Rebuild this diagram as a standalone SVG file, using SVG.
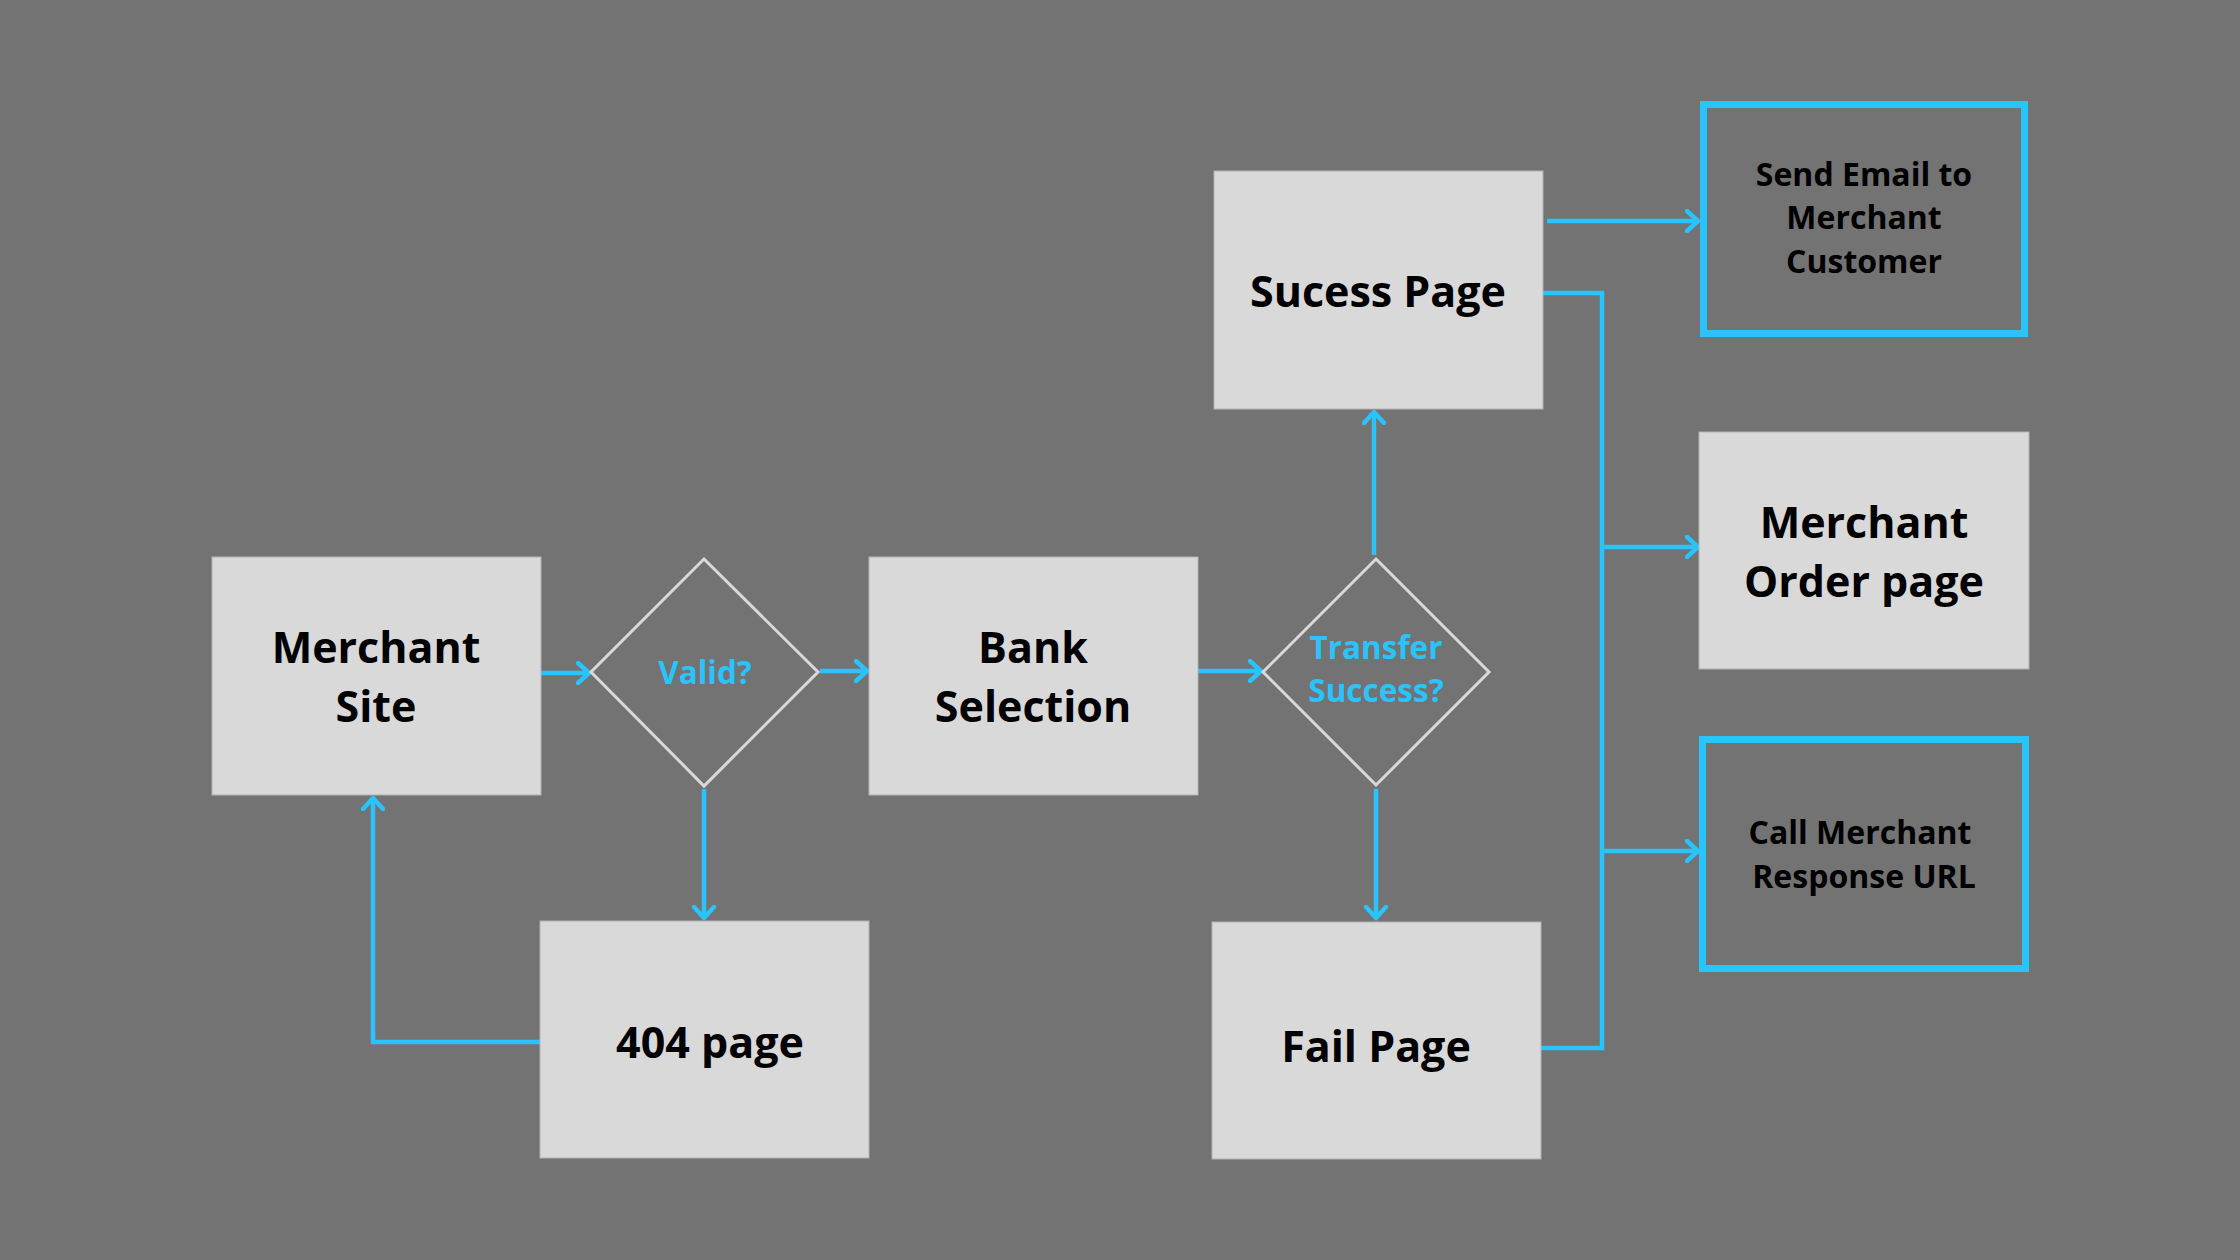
<svg xmlns="http://www.w3.org/2000/svg" width="2240" height="1260" viewBox="0 0 2240 1260">
<defs>
<marker id="arr" markerUnits="userSpaceOnUse" viewBox="0 0 16 24" refX="13" refY="12" markerWidth="16" markerHeight="24" orient="auto">
<path d="M2,2 L13,12 L2,22" fill="none" stroke="#29c3fd" stroke-width="4.5" stroke-linecap="round" stroke-linejoin="round"/>
</marker>
<style>
.box{fill:#d9d9d9;stroke:#b3b3b3;stroke-width:1}
.obox{fill:none;stroke:#29c3fd;stroke-width:7}
.dia{fill:none;stroke:#d9d9d9;stroke-width:3}
.big{font-family:"Open Sans","Liberation Sans",sans-serif;font-weight:700;font-size:43px;fill:#000;text-anchor:middle}
.small{font-family:"Open Sans","Liberation Sans",sans-serif;font-weight:700;font-size:32px;fill:#000;text-anchor:middle}
.q{font-family:"Open Sans","Liberation Sans",sans-serif;font-weight:700;font-size:31.5px;fill:#29c3fd;text-anchor:middle}
.c{fill:none;stroke:#29c3fd;stroke-width:4.5;stroke-linejoin:miter}
</style>
</defs>
<rect width="2240" height="1260" fill="#737373"/>
<g id="connectors">
<line class="c" x1="541" y1="673" x2="589" y2="673" marker-end="url(#arr)"/>
<line class="c" x1="820" y1="671" x2="867" y2="671" marker-end="url(#arr)"/>
<line class="c" x1="1198" y1="671" x2="1261" y2="671" marker-end="url(#arr)"/>
<line class="c" x1="1374" y1="555" x2="1374" y2="412" marker-end="url(#arr)"/>
<line class="c" x1="1376" y1="789" x2="1376" y2="918" marker-end="url(#arr)"/>
<line class="c" x1="704" y1="789" x2="704" y2="918" marker-end="url(#arr)"/>
<polyline class="c" points="540,1042 373,1042 373,798" marker-end="url(#arr)"/>
<line class="c" x1="1547" y1="221" x2="1698" y2="221" marker-end="url(#arr)"/>
<polyline class="c" points="1543,293 1602,293 1602,1048 1541,1048"/>
<line class="c" x1="1602" y1="547" x2="1698" y2="547" marker-end="url(#arr)"/>
<line class="c" x1="1602" y1="851" x2="1698" y2="851" marker-end="url(#arr)"/>
</g>
<g id="merchant-site">
<rect class="box" x="212" y="557" width="329" height="238"/>
<text class="big" x="376" y="663">Merchant</text>
<text class="big" x="376" y="722">Site</text>
</g>
<g id="valid">
<polygon class="dia" points="704,559 818,672 704,786 591,672"/>
<text class="q" x="705" y="684">Valid?</text>
</g>
<g id="bank-selection">
<rect class="box" x="869" y="557" width="329" height="238"/>
<text class="big" x="1033" y="663">Bank</text>
<text class="big" x="1033" y="722">Selection</text>
</g>
<g id="transfer-success">
<polygon class="dia" points="1376,559 1489,672 1376,785 1263,672"/>
<text class="q" x="1376" y="659">Transfer</text>
<text class="q" x="1376" y="702">Success?</text>
</g>
<g id="success-page">
<rect class="box" x="1214" y="171" width="329" height="238"/>
<text class="big" x="1378" y="307">Sucess Page</text>
</g>
<g id="fail-page">
<rect class="box" x="1212" y="922" width="329" height="237"/>
<text class="big" x="1376" y="1062">Fail Page</text>
</g>
<g id="404-page">
<rect class="box" x="540" y="921" width="329" height="237"/>
<text class="big" x="710" y="1058">404 page</text>
</g>
<g id="send-email">
<rect class="obox" x="1703.5" y="104.5" width="321" height="229"/>
<text class="small" x="1864" y="186">Send Email to</text>
<text class="small" x="1864" y="229">Merchant</text>
<text class="small" x="1864" y="273">Customer</text>
</g>
<g id="merchant-order">
<rect class="box" x="1699" y="432" width="330" height="237"/>
<text class="big" x="1864" y="538">Merchant</text>
<text class="big" x="1864" y="597">Order page</text>
</g>
<g id="call-merchant">
<rect class="obox" x="1702.5" y="739.5" width="323" height="229"/>
<text class="small" x="1860" y="844">Call Merchant</text>
<text class="small" x="1864" y="888">Response URL</text>
</g>
</svg>
